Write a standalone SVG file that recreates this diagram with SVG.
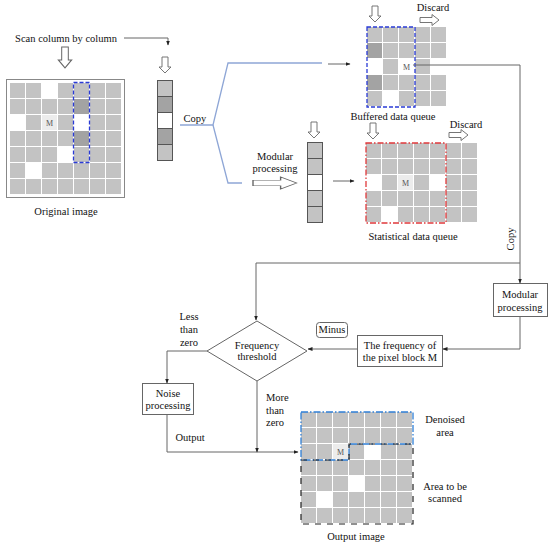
<svg xmlns="http://www.w3.org/2000/svg" width="550" height="549" viewBox="0 0 550 549">
<style>
text{font-family:"Liberation Serif","Times New Roman",serif;font-size:10.5px;fill:#111;text-anchor:middle}
.g{fill:#c3c3c3}
.d{fill:#a3a3a3}
.m{fill:#ececec}
.mt{font-size:8px;fill:#555}
.ln{fill:none;stroke:#666;stroke-width:1}
.bl{fill:none;stroke:#8ea6d6;stroke-width:1.3}
.ha{fill:#fff;stroke:#666;stroke-width:0.9}
.st{stroke:#555;stroke-width:1}
.box{fill:#fff;stroke:#666;stroke-width:1}
</style>
<defs>
<marker id="ar" viewBox="0 0 10 10" refX="9" refY="5" markerWidth="5" markerHeight="5" orient="auto"><path d="M0,1 L10,5 L0,9 z" fill="#222"/></marker>
<path id="hd" d="M-3,0 h6 v10 h3 l-6,6 l-6,-6 h3 z"/>
<path id="hr" d="M0,-2.5 h12 v-3 l7,5.5 l-7,5.5 v-3 h-12 z"/>
</defs>
<rect width="550" height="549" fill="#fff"/>

<g id="scan-label">
<text x="66" y="42">Scan column by column</text>
<use href="#hd" class="ha" transform="translate(65,47) scale(1.1,1.3)"/>
</g>

<g id="original-image">
<rect x="6.5" y="79.5" width="118" height="118" fill="#fff" stroke="#888" stroke-width="1"/>
<g class="g">
<rect x="10" y="83" width="15" height="15"/><rect x="26" y="83" width="15" height="15"/><rect x="58" y="83" width="15" height="15"/><rect x="74" y="83" width="15" height="15"/><rect x="90" y="83" width="15" height="15"/><rect x="106" y="83" width="15" height="15"/>
<rect x="10" y="99" width="15" height="15"/><rect x="26" y="99" width="15" height="15"/><rect x="42" y="99" width="15" height="15"/><rect x="58" y="99" width="15" height="15"/><rect x="90" y="99" width="15" height="15"/><rect x="106" y="99" width="15" height="15"/>
<rect x="26" y="115" width="15" height="15"/><rect x="58" y="115" width="15" height="15"/><rect x="90" y="115" width="15" height="15"/><rect x="106" y="115" width="15" height="15"/>
<rect x="10" y="131" width="15" height="15"/><rect x="26" y="131" width="15" height="15"/><rect x="42" y="131" width="15" height="15"/><rect x="58" y="131" width="15" height="15"/><rect x="90" y="131" width="15" height="15"/><rect x="106" y="131" width="15" height="15"/>
<rect x="10" y="147" width="15" height="15"/><rect x="26" y="147" width="15" height="15"/><rect x="42" y="147" width="15" height="15"/><rect x="74" y="147" width="15" height="15"/><rect x="90" y="147" width="15" height="15"/><rect x="106" y="147" width="15" height="15"/>
<rect x="10" y="163" width="15" height="15"/><rect x="42" y="163" width="15" height="15"/><rect x="58" y="163" width="15" height="15"/><rect x="74" y="163" width="15" height="15"/><rect x="90" y="163" width="15" height="15"/><rect x="106" y="163" width="15" height="15"/>
<rect x="10" y="179" width="15" height="15"/><rect x="26" y="179" width="15" height="15"/><rect x="42" y="179" width="15" height="15"/><rect x="58" y="179" width="15" height="15"/><rect x="74" y="179" width="15" height="15"/><rect x="90" y="179" width="15" height="15"/><rect x="106" y="179" width="15" height="15"/>
</g>
<rect class="d" x="74" y="99" width="15" height="15"/><rect class="d" x="74" y="131" width="15" height="15"/>
<rect class="m" x="42" y="115" width="15" height="15"/><text class="mt" x="49.5" y="125.5">M</text>
<rect x="73.5" y="82.5" width="16" height="80" fill="none" stroke="#2a3bd6" stroke-width="1.3" stroke-dasharray="4,2"/>
<text x="66" y="215">Original image</text>
</g>

<g id="column-strip">
<use href="#hd" class="ha" transform="translate(165,57)"/>
<rect class="g st" x="157.5" y="80.5" width="15" height="16"/>
<rect class="d st" x="157.5" y="96.5" width="15" height="16"/>
<rect fill="#fff" class="st" x="157.5" y="112.5" width="15" height="16"/>
<rect class="d st" x="157.5" y="128.5" width="15" height="16"/>
<rect class="g st" x="157.5" y="144.5" width="15" height="16"/>
<text x="195" y="122">Copy</text>
</g>

<g id="buffered-queue">
<use href="#hd" class="ha" transform="translate(375,6)"/>
<text x="433" y="11">Discard</text>
<use href="#hr" class="ha" transform="translate(420,20)"/>
<g class="g">
<rect x="367" y="27" width="15" height="15"/><rect x="383" y="27" width="15" height="15"/><rect x="399" y="27" width="15" height="15"/><rect x="415" y="27" width="15" height="15"/><rect x="431" y="27" width="15" height="15"/>
<rect x="383" y="43" width="15" height="15"/><rect x="399" y="43" width="15" height="15"/><rect x="415" y="43" width="15" height="15"/><rect x="431" y="43" width="15" height="15"/>
<rect x="383" y="59" width="15" height="15"/><rect x="415" y="59" width="15" height="15"/>
<rect x="383" y="75" width="15" height="15"/><rect x="399" y="75" width="15" height="15"/><rect x="415" y="75" width="15" height="15"/><rect x="431" y="75" width="15" height="15"/>
<rect x="367" y="91" width="15" height="15"/><rect x="399" y="91" width="15" height="15"/><rect x="415" y="91" width="15" height="15"/><rect x="431" y="91" width="15" height="15"/>
</g>
<rect class="d" x="367" y="43" width="15" height="15"/><rect class="d" x="367" y="75" width="15" height="15"/>
<text class="mt" x="406.5" y="69.5">M</text>
<rect x="367" y="27" width="48" height="80" fill="none" stroke="#2a3bd6" stroke-width="1.3" stroke-dasharray="4,2"/>
<text x="393" y="120">Buffered data queue</text>
</g>

<g id="modular-strip">
<text x="275" y="160">Modular</text>
<text x="275" y="172">processing</text>
<g transform="translate(253,183) scale(2.3,1.1)"><use href="#hr" class="ha" style="stroke-width:0.6"/></g>
<use href="#hd" class="ha" transform="translate(314,122)"/>
<rect class="g st" x="307.5" y="142.5" width="15" height="16"/>
<rect class="g st" x="307.5" y="158.5" width="15" height="16"/>
<rect fill="#fff" class="st" x="307.5" y="174.5" width="15" height="16"/>
<rect class="g st" x="307.5" y="190.5" width="15" height="16"/>
<rect class="g st" x="307.5" y="206.5" width="15" height="16"/>
</g>

<g id="statistical-queue">
<use href="#hd" class="ha" transform="translate(373,123)"/>
<text x="466" y="128">Discard</text>
<use href="#hr" class="ha" transform="translate(449,135)"/>
<g class="g">
<rect x="366" y="143" width="15" height="15"/><rect x="382" y="143" width="15" height="15"/><rect x="398" y="143" width="15" height="15"/><rect x="414" y="143" width="15" height="15"/><rect x="430" y="143" width="15" height="15"/><rect x="446" y="143" width="15" height="15"/><rect x="462" y="143" width="15" height="15"/>
<rect x="366" y="159" width="15" height="15"/><rect x="382" y="159" width="15" height="15"/><rect x="398" y="159" width="15" height="15"/><rect x="414" y="159" width="15" height="15"/><rect x="430" y="159" width="15" height="15"/><rect x="446" y="159" width="15" height="15"/><rect x="462" y="159" width="15" height="15"/>
<rect x="382" y="175" width="15" height="15"/><rect x="414" y="175" width="15" height="15"/><rect x="446" y="175" width="15" height="15"/><rect x="462" y="175" width="15" height="15"/>
<rect x="366" y="191" width="15" height="15"/><rect x="382" y="191" width="15" height="15"/><rect x="398" y="191" width="15" height="15"/><rect x="414" y="191" width="15" height="15"/><rect x="430" y="191" width="15" height="15"/><rect x="446" y="191" width="15" height="15"/><rect x="462" y="191" width="15" height="15"/>
<rect x="366" y="207" width="15" height="15"/><rect x="398" y="207" width="15" height="15"/><rect x="414" y="207" width="15" height="15"/><rect x="430" y="207" width="15" height="15"/><rect x="446" y="207" width="15" height="15"/><rect x="462" y="207" width="15" height="15"/>
</g>
<rect class="m" x="398" y="175" width="15" height="15"/><text class="mt" x="405.5" y="185.5">M</text>
<rect x="366" y="143" width="80" height="80" fill="none" stroke="#e0393b" stroke-width="1.3" stroke-dasharray="6,2,1.5,2"/>
<text x="413" y="240">Statistical data queue</text>
</g>

<g id="modular-processing">
<rect class="box" x="493.5" y="283.5" width="54" height="33"/>
<text x="520" y="298">Modular</text>
<text x="520" y="311">processing</text>
</g>

<g id="frequency-block">
<rect class="box" x="357.5" y="335.5" width="85" height="31"/>
<text x="400" y="349">The frequency of</text>
<text x="400" y="361">the pixel block M</text>
</g>

<g id="minus">
<rect x="316.5" y="322.5" width="31" height="15" rx="3" fill="#fff" stroke="#666"/>
<text x="332" y="333">Minus</text>
</g>

<g id="frequency-threshold">
<path d="M257,321 L307,351 L257,381 L207,351 Z" fill="#fff" stroke="#666"/>
<text x="257" y="349">Frequency</text>
<text x="257" y="360">threshold</text>
</g>

<g id="noise-processing">
<rect class="box" x="142.5" y="383.5" width="51" height="31"/>
<text x="168" y="397">Noise</text>
<text x="168" y="409">processing</text>
</g>

<g id="output-image">
<g class="g">
<rect x="301" y="412" width="15" height="15"/><rect x="317" y="412" width="15" height="15"/><rect x="333" y="412" width="15" height="15"/><rect x="349" y="412" width="15" height="15"/><rect x="365" y="412" width="15" height="15"/><rect x="381" y="412" width="15" height="15"/><rect x="397" y="412" width="15" height="15"/>
<rect x="301" y="428" width="15" height="15"/><rect x="317" y="428" width="15" height="15"/><rect x="333" y="428" width="15" height="15"/><rect x="349" y="428" width="15" height="15"/><rect x="365" y="428" width="15" height="15"/><rect x="381" y="428" width="15" height="15"/><rect x="397" y="428" width="15" height="15"/>
<rect x="301" y="444" width="15" height="15"/><rect x="317" y="444" width="15" height="15"/><rect x="349" y="444" width="15" height="15"/><rect x="381" y="444" width="15" height="15"/><rect x="397" y="444" width="15" height="15"/>
<rect x="301" y="460" width="15" height="15"/><rect x="317" y="460" width="15" height="15"/><rect x="333" y="460" width="15" height="15"/><rect x="349" y="460" width="15" height="15"/><rect x="365" y="460" width="15" height="15"/><rect x="381" y="460" width="15" height="15"/><rect x="397" y="460" width="15" height="15"/>
<rect x="301" y="476" width="15" height="15"/><rect x="317" y="476" width="15" height="15"/><rect x="333" y="476" width="15" height="15"/><rect x="365" y="476" width="15" height="15"/><rect x="381" y="476" width="15" height="15"/><rect x="397" y="476" width="15" height="15"/>
<rect x="301" y="492" width="15" height="15"/><rect x="333" y="492" width="15" height="15"/><rect x="349" y="492" width="15" height="15"/><rect x="365" y="492" width="15" height="15"/><rect x="381" y="492" width="15" height="15"/><rect x="397" y="492" width="15" height="15"/>
<rect x="301" y="508" width="15" height="15"/><rect x="317" y="508" width="15" height="15"/><rect x="333" y="508" width="15" height="15"/><rect x="349" y="508" width="15" height="15"/><rect x="365" y="508" width="15" height="15"/><rect x="381" y="508" width="15" height="15"/><rect x="397" y="508" width="15" height="15"/>
</g>
<rect class="m" x="333" y="444" width="15" height="15"/><text class="mt" x="340.5" y="454.5">M</text>
<path d="M301,412 H413 V444 H349 V460 H301 Z" fill="none" stroke="#2f7fd6" stroke-width="1.3" stroke-dasharray="7,2,1.5,2"/>
<path d="M301,460 H349 V444 H413 V524 H301 Z" fill="none" stroke="#222" stroke-width="1.2" stroke-dasharray="6,6"/>
<text x="445" y="423">Denoised</text>
<text x="445" y="436">area</text>
<text x="445" y="490">Area to be</text>
<text x="445" y="502">scanned</text>
<text x="356" y="540">Output image</text>
</g>

<g id="connectors">
<path class="ln" d="M124,38 H168 V45" marker-end="url(#ar)"/>
<path class="bl" d="M180,125 H213 L228,63 H322"/>
<path class="bl" d="M213,125 L228,183 H242"/>
<path class="ln" d="M328,64 H350" marker-end="url(#ar)"/>
<path class="ln" d="M333,181 H354" marker-end="url(#ar)"/>
<path class="ln" d="M413,65 H520 V283" marker-end="url(#ar)"/>
<text x="0" y="0" transform="translate(514,239) rotate(-90)">Copy</text>
<path class="ln" d="M520,263 H256 V320" marker-end="url(#ar)"/>
<path class="ln" d="M520,317 V349 H443" marker-end="url(#ar)"/>
<path class="ln" d="M357,349 H308" marker-end="url(#ar)"/>
<path class="ln" d="M207,351 H167 V383" marker-end="url(#ar)"/>
<path class="ln" d="M167,415 V452 H298" marker-end="url(#ar)"/>
<path class="ln" d="M257,381 V452" marker-end="url(#ar)"/>
<text x="189" y="320">Less</text>
<text x="189" y="333">than</text>
<text x="189" y="346">zero</text>
<text x="190" y="441">Output</text>
<text x="266" y="401" style="text-anchor:start">More</text>
<text x="266" y="414" style="text-anchor:start">than</text>
<text x="266" y="426" style="text-anchor:start">zero</text>
</g>
</svg>
